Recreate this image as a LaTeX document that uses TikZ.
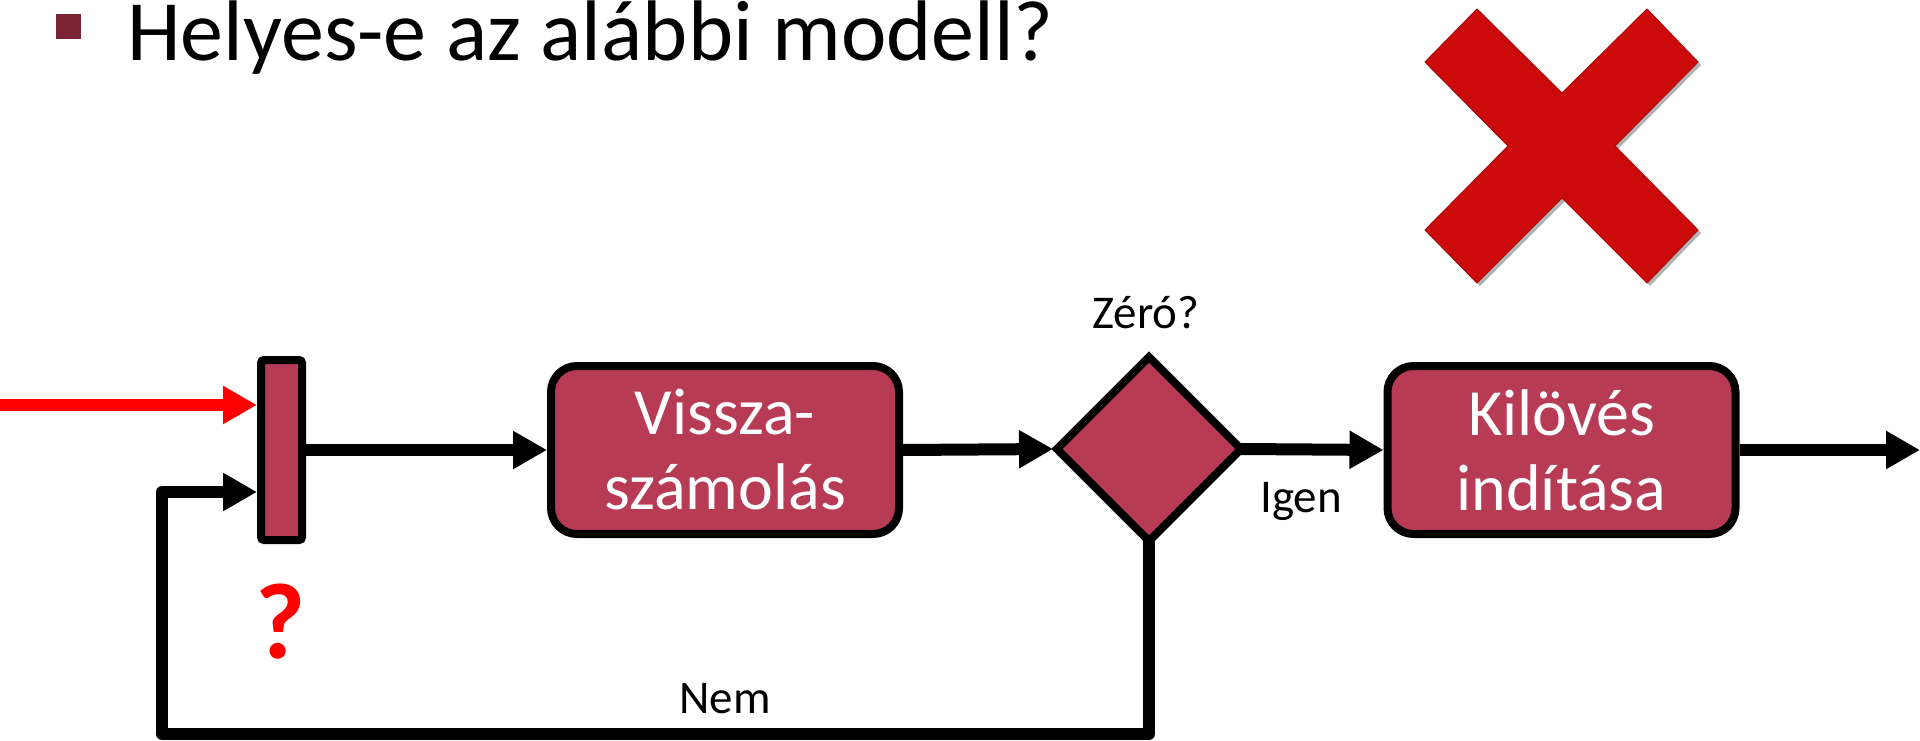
\documentclass[tikz,border=0pt]{standalone}
\usepackage{fontspec}
\setmainfont{Carlito}
\usetikzlibrary{arrows.meta,shapes.geometric,shadows}
\definecolor{boxfill}{RGB}{184,59,86}
\definecolor{bulletc}{RGB}{122,35,53}
\definecolor{xred}{RGB}{204,10,10}
\begin{document}
\begin{tikzpicture}[x=1pt,y=-1pt,
  shad/.style={drop shadow={opacity=0.3,shadow xshift=3pt,shadow yshift=-3pt,fill=black}},
  procbox/.style={draw=black,line width=8pt,fill=boxfill,rounded corners=26pt,
    minimum width=348pt,minimum height=168pt,inner sep=0pt,text=white,align=center,
    font=\fontsize{66}{75}\selectfont,shad},
  mergebar/.style={draw=black,line width=8pt,fill=boxfill,rounded corners=3pt,
    minimum width=41pt,minimum height=180pt,inner sep=0pt,shad},
  decision/.style={diamond,draw=black,line width=8pt,fill=boxfill,minimum size=184pt,
    inner sep=0pt,outer sep=0pt,miter limit=4,shad},
  flow/.style={line width=12pt,-{Triangle[length=34pt,width=36pt]}},
  lbl/.style={font=\fontsize{47}{52}\selectfont,inner sep=0pt,anchor=base}
]
\useasboundingbox (0,0) rectangle (1920,741);

% title
\node[fill=bulletc,minimum size=25pt,inner sep=0pt] (bullet) at (68.5,26.5) {};
\node[anchor=base west,inner sep=0pt,font=\fontsize{86}{100}\selectfont] (title) at (127,61) {Helyes-e az alábbi modell?};

% red cross
\path[fill=xred,draw=xred!85!black,line width=1pt,shad]
  (1562,93) -- (1647,9) -- (1698,62) -- (1615,146) -- (1698,230) -- (1647,283)
  -- (1562,198) -- (1477,283) -- (1425,230) -- (1508,146) -- (1425,62) -- (1477,9) -- cycle;

% feedback coordinates
\coordinate (fb1) at (1149,734);
\coordinate (fb2) at (162,734);
\coordinate (fb3) at (162,492);

% nodes
\node[mergebar] (bar) at (281.5,450) {};
\node[procbox] (count) at (725,450) {Vissza-\\számolás};
\node[decision] (dec) at (1149,449) {};
\node[procbox] (launch) at (1561.5,450) {Kilövés\\indítása};

\node[lbl] (zero) at (1146,328) {Zéró?};
\node[lbl] (igen) at (1301,512) {Igen};
\node[lbl] (nem) at (725,713) {Nem};
\node[lbl,text=red,font=\fontsize{108}{120}\selectfont\bfseries] (qm) at (281,658) {?};

% coordinates
\coordinate (redstart) at (0,405);
\coordinate (outend) at (1920,450);

% connectors
\draw[flow,red] (redstart) -- (redstart -| bar.west);
\draw[flow] (bar.east |- 0,450) -- (count.west);
\draw[flow] (count.east) -- ([xshift=-4pt]dec.west);
\draw[flow] (dec.east) -- (launch.west);
\draw[flow] (launch.east) -- (outend);
\draw[flow,line join=round] (dec.south) -- (fb1) -- (fb2) -- (fb3) -- (fb3 -| bar.west);
\end{tikzpicture}
\end{document}
